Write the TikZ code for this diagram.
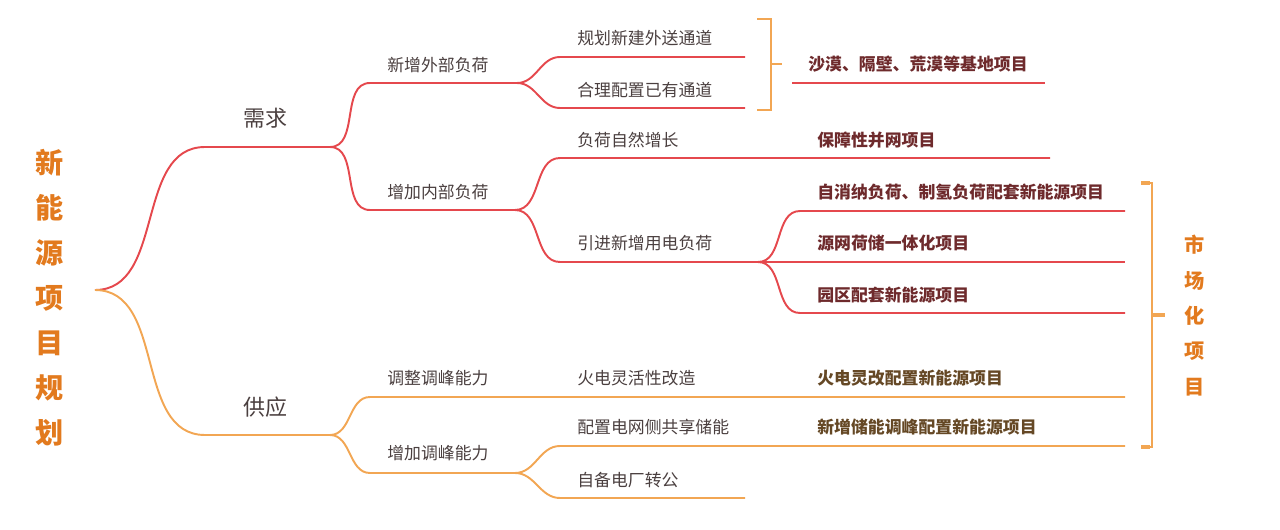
\documentclass[tikz,border=0pt]{standalone}
\usepackage{fontspec}
\setmainfont{Noto Sans CJK SC}
\definecolor{redline}{HTML}{E5484D}
\definecolor{orgline}{HTML}{F2A653}
\definecolor{orgtext}{HTML}{E27A1E}
\definecolor{greytext}{HTML}{4A3F3F}
\definecolor{redproj}{HTML}{6E2A2C}
\definecolor{orgproj}{HTML}{654825}
\begin{document}
\begin{tikzpicture}[x=0.02cm, y=-0.02cm,
    redbranch/.style={draw=redline, line width=1.1pt},
    orgbranch/.style={draw=orgline, line width=1.1pt},
    bracket/.style={draw=orgline, line width=1.2pt},
    lvl/.style={anchor=west, inner sep=0pt, text=greytext, font=\fontsize{9.6pt}{11pt}\selectfont},
    top/.style={inner sep=0pt, text=greytext, font=\fontsize{12.5pt}{14pt}\selectfont},
    proj/.style={anchor=west, inner sep=0pt, text=redproj, font=\fontsize{9.6pt}{11pt}\selectfont\bfseries},
    vchar/.style={inner sep=0pt, text=orgtext, font=\bfseries}]
\useasboundingbox (0,0) rectangle (1280,530);
% root
\foreach \c [count=\i from 0] in {新,能,源,项,目,规,划}
  \node[vchar, font=\fontsize{16pt}{18pt}\selectfont\bfseries] (root\i) at (50,163+45*\i) {\c};
\coordinate (R) at (95,290);
% demand side
\coordinate (D) at (330,147); \coordinate (D1) at (517,83); \coordinate (D2) at (515,210); \coordinate (D3) at (758,262);
\draw[redbranch] (R) to[out=0,in=180] (205,147) -- (D);
\draw[redbranch] (D) to[out=0,in=180] (370,83) -- (D1);
\draw[redbranch] (D) to[out=0,in=180] (370,210) -- (D2);
\draw[redbranch] (D1) to[out=0,in=180] (560,57) -- (745,57);
\draw[redbranch] (D1) to[out=0,in=180] (560,108) -- (745,108);
\draw[redbranch] (D2) to[out=0,in=180] (560,158) -- (1050,158);
\draw[redbranch] (D2) to[out=0,in=180] (560,262) -- (D3);
\draw[redbranch] (D3) to[out=0,in=180] (800,211) -- (1125,211);
\draw[redbranch] (D3) -- (1125,262);
\draw[redbranch] (D3) to[out=0,in=180] (800,313) -- (1125,313);
\draw[redbranch] (792,83) -- (1045,83);
% supply side
\coordinate (S) at (330,435); \coordinate (S2) at (515,473);
\draw[orgbranch] (R) to[out=0,in=180] (205,435) -- (S);
\draw[orgbranch] (S) to[out=0,in=180] (370,397) -- (1125,397);
\draw[orgbranch] (S) to[out=0,in=180] (370,473) -- (S2);
\draw[orgbranch] (S2) to[out=0,in=180] (560,446) -- (1125,446);
\draw[orgbranch] (S2) to[out=0,in=180] (560,498) -- (745,498);
% labels
\node[top] (need) at (265,118) {需求}; \node[top] (supp) at (265,407) {供应};
\node[lvl] (ext) at (387,65) {新增外部负荷}; \node[lvl] (int) at (387,192) {增加内部负荷};
\node[lvl] (adj) at (387,378) {调整调峰能力}; \node[lvl] (add) at (387,453) {增加调峰能力};
\node[lvl] (plan) at (577,38) {规划新建外送通道}; \node[lvl] (conf) at (577,90) {合理配置已有通道};
\node[lvl] (grow) at (577,140) {负荷自然增长}; \node[lvl] (intro) at (577,243) {引进新增用电负荷};
\node[lvl] (flex) at (577,378) {火电灵活性改造}; \node[lvl] (stor) at (577,427) {配置电网侧共享储能};
\node[lvl] (self) at (577,480) {自备电厂转公};
\node[proj] (base) at (808,64) {沙漠、隔壁、荒漠等基地项目};
\node[proj] (guar) at (817,140) {保障性并网项目};
\node[proj] (hydro) at (817,192) {自消纳负荷、制氢负荷配套新能源项目};
\node[proj] (integ) at (817,243) {源网荷储一体化项目};
\node[proj] (park) at (817,295) {园区配套新能源项目};
\node[proj, text=orgproj] (fire) at (817,378) {火电灵改配置新能源项目};
\node[proj, text=orgproj] (peak) at (817,427) {新增储能调峰配置新能源项目};
% brackets
\draw[bracket] (757,19) -- (771,19) -- (771,110) -- (757,110); \draw[bracket] (771,64) -- (782,64);
\draw[bracket, line width=1.4pt] (1142,183) -- (1152,183) -- (1152,447) -- (1142,447);
\draw[bracket, line width=2.4pt] (1141,183) -- (1150,183); \draw[bracket, line width=2.4pt] (1141,447) -- (1150,447);
\draw[bracket, line width=2.4pt] (1152,315) -- (1165,315);
\foreach \c [count=\i from 0] in {市,场,化,项,目}
  \node[vchar, font=\fontsize{11.5pt}{13pt}\selectfont\bfseries] (mkt\i) at (1195,245+35.5*\i) {\c};
\end{tikzpicture}
\end{document}
